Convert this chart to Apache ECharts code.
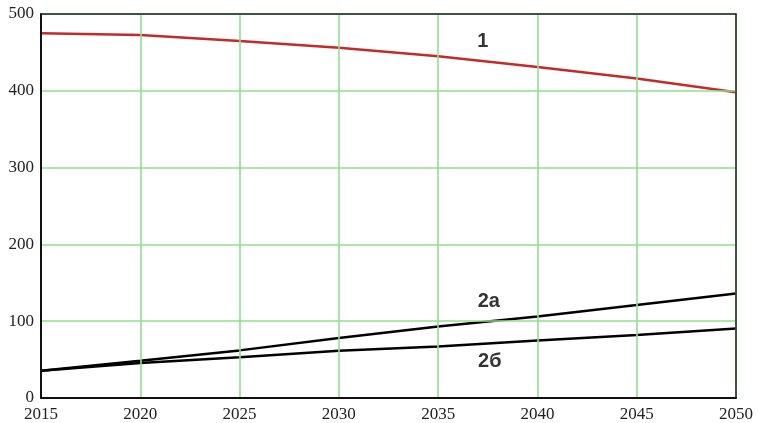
<!DOCTYPE html>
<html><head><meta charset="utf-8">
<script src="https://cdn.jsdelivr.net/npm/echarts@6/dist/echarts.min.js"></script>
<style>html,body{margin:0;padding:0;background:#fff}#c{width:758px;height:423px}</style>
</head><body><div id="c"></div>
<script>
const years = [2015, 2020, 2025, 2030, 2035, 2040, 2045, 2050];
const series1 = [475, 472.5, 465, 456, 445, 431, 416, 398];
const series2a = [35.5, 48.5, 62, 78, 93, 106, 121, 136];
const series2b = [35.5, 45.5, 53, 61.5, 67, 75, 82, 90.5];
const labels = [
  {text: '1', year: 2037.25, value: 464},
  {text: '2a', year: 2037.55, value: 126},
  {text: '2б', year: 2037.6, value: 48}
];

const pair = arr => years.map((y, i) => [y, arr[i]]);
const chart = echarts.init(document.getElementById('c'));
const labelFont = {fontFamily: 'Liberation Serif', fontSize: 17, color: '#222'};
const frameAxis = (pos, w, extra) => Object.assign({
  type: 'value', position: pos,
  axisLine: {show: true, onZero: false, lineStyle: {color: '#222', width: w}},
  axisTick: {show: false}, axisLabel: {show: false}, splitLine: {show: false}, z: 5
}, extra);
const gridLine = {show: true, lineStyle: {color: '#8ee08e', width: 1.6}};
chart.setOption({
  animation: false,
  grid: {left: 41, right: 22, top: 14, bottom: 24, backgroundColor: '#fff'},
  xAxis: [{
    type: 'value', min: 2015, max: 2050, interval: 5,
    axisLine: {show: true, onZero: false, lineStyle: {color: '#111', width: 2}},
    axisTick: {show: false},
    splitLine: gridLine,
    axisLabel: Object.assign({margin: 8, formatter: v => String(v)}, labelFont), z: 5
  }, frameAxis('top', 1.5, {min: 2015, max: 2050})],
  yAxis: [{
    type: 'value', min: 0, max: 500, interval: 100,
    axisLine: {show: true, onZero: false, lineStyle: {color: '#111', width: 2}},
    axisTick: {show: false},
    splitLine: gridLine,
    axisLabel: Object.assign({margin: 7}, labelFont), z: 5
  }, frameAxis('right', 1.5, {min: 0, max: 500})],
  series: [
    {type: 'line', data: pair(series1), symbol: 'none', lineStyle: {color: '#c42a2a', width: 2.5}, z: 3},
    {type: 'line', data: pair(series2a), symbol: 'none', lineStyle: {color: '#000', width: 2.5}, z: 3},
    {type: 'line', data: pair(series2b), symbol: 'none', lineStyle: {color: '#000', width: 2.5}, z: 3},
    {type: 'scatter', data: labels.map(l => ({value: [l.year, l.value], name: l.text})),
     symbolSize: 0, silent: true, z: 4,
     label: {show: true, position: 'inside', formatter: p => p.name,
       fontFamily: 'Liberation Sans', fontWeight: 'bold', fontSize: 20, color: '#000'}}
  ]
});
</script></body></html>
